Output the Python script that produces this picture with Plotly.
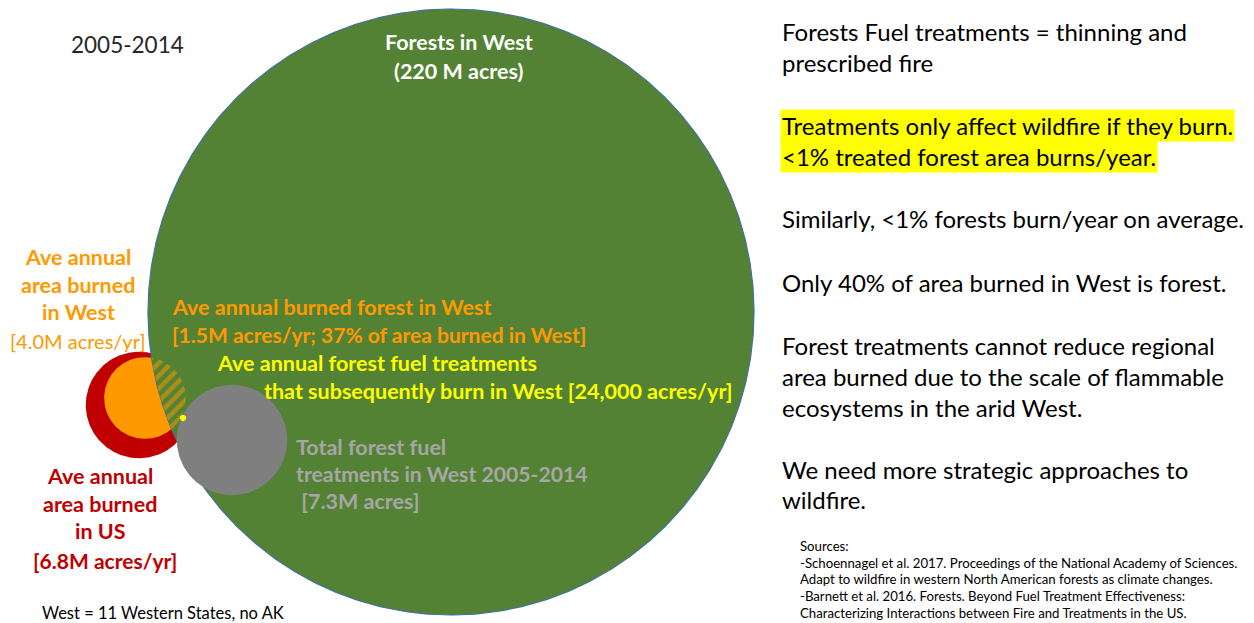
import numpy as np
import plotly.graph_objects as go

# ---------------- data ----------------
period_label = "2005-2014"
circle_names = ["Ave annual area burned in US", "Ave annual area burned in West",
                "Forests in West", "Total forest fuel treatments in West 2005-2014",
                "Ave annual forest fuel treatments that burn in West"]
circle_acres_m = [6.8, 4.0, 220.0, 7.3, 0.024]   # million acres
burned_forest_acres_m = 1.5
burned_forest_share_pct = 37

right_lines = ["Forests Fuel treatments = thinning and", "prescribed fire"]
highlight_lines = ["Treatments only affect wildfire if they burn.",
                   "<1% treated forest area burns/year."]
right_para2 = ["Similarly, <1% forests burn/year on average."]
right_para3 = ["Only 40% of area burned in West is forest."]
right_para4 = ["Forest treatments cannot reduce regional",
               "area burned due to the scale of flammable",
               "ecosystems in the arid West."]
right_para5 = ["We need more strategic approaches to", "wildfire."]
sources_lines = ["Sources:",
                 "-Schoennagel et al. 2017. Proceedings of the National Academy of Sciences.",
                 "Adapt to wildfire in western North American forests as climate changes.",
                 "-Barnett et al. 2016. Forests. Beyond Fuel Treatment Effectiveness:",
                 "Characterizing Interactions between Fire and Treatments in the US."]
footnote = "West = 11 Western States, no AK"

# ---------------- layout / style ----------------
W, H = 1254, 623
FONT = "Lato"
GREEN, RED, ORANGE, GRAY, YELLOW = "#548235", "#C00000", "#FF9900", "#7F7F7F", "#FFFF00"
colors = [RED, ORANGE, GREEN, GRAY, YELLOW]
centers = [(139, 405), (145, 398), (451, 312), (232, 440), (183, 418)]
R_BIG = 303  # pixel radius of the 220M-acre circle
radii = [R_BIG * np.sqrt(a / circle_acres_m[2]) for a in circle_acres_m]

t = np.linspace(0, 2 * np.pi, 721)


def circle_pts(c, r):
    return c[0] + r * np.cos(t), c[1] + r * np.sin(t)


fig = go.Figure()


def add_circle(i, outline=None):
    x, y = circle_pts(centers[i], radii[i])
    fig.add_trace(go.Scatter(x=x, y=y, mode="lines", fill="toself",
                             fillcolor=colors[i],
                             line=dict(color=outline or colors[i], width=1.2 if outline else 0),
                             hoverinfo="skip"))


add_circle(0)
add_circle(1)
add_circle(2, outline="#41719C")

# hatched lens: part of West burned area lying inside the forest circle
ox, oy = circle_pts(centers[1], radii[1])
gx0, gy0 = centers[2]
d = np.hypot(ox - gx0, oy - gy0)
scale = np.minimum(1.0, radii[2] / d)
lx = gx0 + (ox - gx0) * scale
ly = gy0 + (oy - gy0) * scale
fig.add_trace(go.Scatter(x=lx, y=ly, mode="lines", fill="toself",
                         fillcolor=GREEN, line=dict(width=0),
                         fillpattern=dict(shape="/", fgcolor=ORANGE, bgcolor=GREEN,
                                          size=9, solidity=0.5),
                         hoverinfo="skip"))

add_circle(3)
add_circle(4)

ann = []


def txt(s, x, y, size, color, bold=False, anchor="left", bg=None):
    a = dict(text=f"<b>{s}</b>" if bold else s, x=x, y=y, xref="x", yref="y",
             showarrow=False, xanchor=anchor, yanchor="middle",
             font=dict(family=FONT, size=size, color=color))
    if bg:
        a.update(bgcolor=bg, borderpad=1)
    ann.append(a)


BS = 21.5  # bold label size
txt(period_label, 69, 44, 22.5, "#262626")
txt("Forests in West", 459, 42, BS, "#FFFFFF", True, "center")
txt(f"({circle_acres_m[2]:.0f} M acres)", 459, 71, BS, "#FFFFFF", True, "center")

for s, y in zip(["Ave annual", "area burned", "in West"], [257, 285, 312]):
    txt(s, 78, y, BS, ORANGE, True, "center")
txt(f"[{circle_acres_m[1]:.1f}M acres/yr]", 78, 341, 20, ORANGE, False, "center")

txt("Ave annual burned forest in West", 170, 307, BS, ORANGE, True)
txt(f"[{burned_forest_acres_m:.1f}M acres/yr; {burned_forest_share_pct}% of area burned in West]",
    170, 334, 21, ORANGE, True)
txt("Ave annual forest fuel treatments", 215, 363, BS, YELLOW, True)
txt(f"that subsequently burn in West [{circle_acres_m[4]*1e6:,.0f} acres/yr]", 262, 391, BS, YELLOW, True)

txt("Total forest fuel", 294, 447, BS, "#A6A6A6", True)
txt("treatments in West 2005-2014", 294, 474, 21.2, "#A6A6A6", True)
txt(f" [{circle_acres_m[3]:.1f}M acres]", 294, 501, BS, "#A6A6A6", True)

for s, y in zip(["Ave annual", "area burned", "in US"], [476, 504, 531]):
    txt(s, 100, y, BS, RED, True, "center")
txt(f"[{circle_acres_m[0]:.1f}M acres/yr]", 105, 560, 21, RED, True, "center")

txt(footnote, 40, 613, 16.5, "#000000")

RS = 24
RX = 780
for s, y in zip(right_lines, [31, 62]):
    txt(s, RX, y, RS, "#000000")
for s, y in zip(highlight_lines, [125, 156]):
    txt(s, RX, y, RS, "#000000", bg=YELLOW)
txt(right_para2[0], RX, 218, RS, "#000000")
txt(right_para3[0], RX, 282, RS, "#000000")
for s, y in zip(right_para4, [345, 376, 407]):
    txt(s, RX, y, RS, "#000000")
for s, y in zip(right_para5, [469, 499]):
    txt(s, RX, y, RS, "#000000")
for s, y in zip(sources_lines, [546, 563, 579, 596, 613]):
    txt(s, 798, y, 13.2, "#000000")

fig.update_layout(width=W, height=H, margin=dict(l=0, r=0, t=0, b=0),
                  paper_bgcolor="white", plot_bgcolor="white", showlegend=False,
                  annotations=ann,
                  xaxis=dict(range=[0, W], visible=False, fixedrange=True),
                  yaxis=dict(range=[H, 0], visible=False, fixedrange=True))
fig.write_html("out.html", config={"displayModeBar": False},
               post_script="document.body.style.margin='0';document.body.style.overflow='hidden';")
